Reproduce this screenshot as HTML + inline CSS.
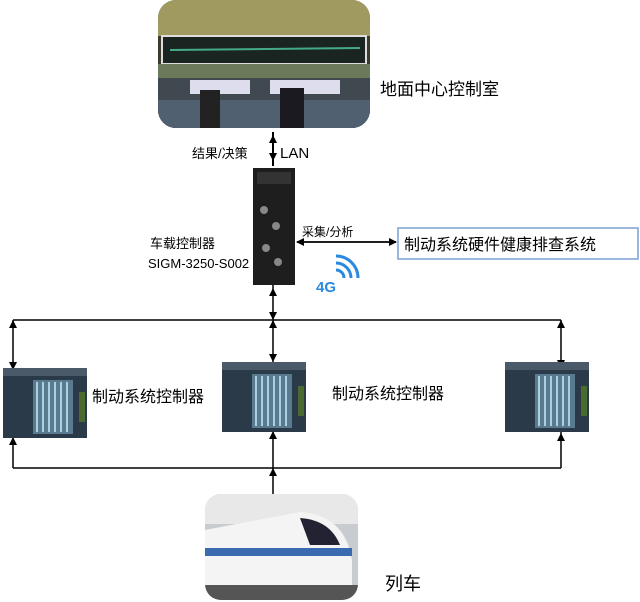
<!DOCTYPE html>
<html><head><meta charset="utf-8"><style>
body{margin:0;background:#fff;}
svg{display:block;font-family:"Liberation Sans","Noto Sans CJK SC",sans-serif;}
</style></head><body>
<svg width="640" height="602" viewBox="0 0 640 602" xmlns="http://www.w3.org/2000/svg">
<defs>
<marker id="a" markerWidth="8" markerHeight="8" refX="7" refY="4" orient="auto" markerUnits="userSpaceOnUse"><path d="M0,0 L8,4 L0,8 z" fill="#000"/></marker>
<clipPath id="c1"><rect x="158" y="0" width="212" height="128" rx="18"/></clipPath>
<clipPath id="c2"><rect x="205" y="494" width="153" height="106" rx="16"/></clipPath>
<g id="plc">
<rect x="0" y="6" width="84" height="64" fill="#2a3a48"/>
<rect x="0" y="0" width="84" height="8" fill="#4a5a68"/>
<rect x="30" y="12" width="40" height="54" fill="#5a7a90"/>
<g stroke="#a8d0e0" stroke-width="2"><line x1="34" y1="14" x2="34" y2="64"/><line x1="40" y1="14" x2="40" y2="64"/><line x1="46" y1="14" x2="46" y2="64"/><line x1="52" y1="14" x2="52" y2="64"/><line x1="58" y1="14" x2="58" y2="64"/><line x1="64" y1="14" x2="64" y2="64"/></g>
<rect x="76" y="24" width="6" height="30" fill="#4a6a30"/>
</g>
</defs>
<!-- control room photo -->
<g clip-path="url(#c1)">
<rect x="158" y="0" width="212" height="128" fill="#3a3a30"/>
<rect x="158" y="0" width="212" height="36" fill="#a09a60"/>
<rect x="162" y="36" width="204" height="28" fill="#1a2420" stroke="#ddd" stroke-width="2"/>
<line x1="170" y1="50" x2="360" y2="48" stroke="#4a8" stroke-width="2"/>
<rect x="158" y="64" width="212" height="14" fill="#6a7a5a"/>
<rect x="158" y="78" width="212" height="50" fill="#404850"/>
<rect x="190" y="80" width="60" height="14" fill="#dde"/>
<rect x="270" y="80" width="70" height="14" fill="#dde"/>
<rect x="158" y="100" width="212" height="28" fill="#506070"/>
<rect x="200" y="90" width="20" height="38" fill="#222"/>
<rect x="280" y="88" width="24" height="40" fill="#1a1a20"/>
</g>
<text x="380" y="95" font-size="17">地面中心控制室</text>
<line x1="273" y1="136" x2="273" y2="160" stroke="#000" stroke-width="2" marker-end="url(#a)"/>
<line x1="273" y1="160" x2="273" y2="136" stroke="#000" stroke-width="2" marker-end="url(#a)"/>
<line x1="273" y1="132" x2="273" y2="166" stroke="#000" stroke-width="2"/>
<text x="192" y="158" font-size="13">结果/决策</text>
<text x="280" y="158" font-size="15">LAN</text>
<!-- vehicle controller -->
<rect x="253" y="168" width="42" height="117" fill="#1e1e1e"/>
<rect x="257" y="172" width="34" height="12" fill="#333"/>
<circle cx="264" cy="210" r="4" fill="#888"/><circle cx="276" cy="226" r="4" fill="#888"/><circle cx="266" cy="248" r="4" fill="#888"/><circle cx="278" cy="262" r="4" fill="#888"/>
<text x="150" y="248" font-size="13">车载控制器</text>
<text x="148" y="268" font-size="13">SIGM-3250-S002</text>
<line x1="297" y1="242" x2="396" y2="242" stroke="#000" stroke-width="1.5" marker-end="url(#a)"/>
<line x1="396" y1="242" x2="297" y2="242" stroke="#000" stroke-width="1.5" marker-end="url(#a)"/>
<text x="302" y="236" font-size="12">采集/分析</text>
<rect x="398" y="228" width="240" height="31" fill="#fff" stroke="#7aa0d0" stroke-width="1.5"/>
<text x="404" y="250" font-size="16">制动系统硬件健康排查系统</text>
<g fill="none" stroke="#2a8ae0" stroke-width="3"><path d="M336,270 a8,8 0 0 1 8,8"/><path d="M336,263 a15,15 0 0 1 15,15"/><path d="M336,256 a22,22 0 0 1 22,22"/></g>
<text x="316" y="292" font-size="15" font-weight="bold" fill="#2a8ae0">4G</text>
<!-- buses -->
<g stroke="#000" stroke-width="1.5" fill="none">
<line x1="273" y1="285" x2="273" y2="320"/>
<line x1="13" y1="320" x2="561" y2="320"/>
<line x1="13" y1="468" x2="561" y2="468"/>
<line x1="13" y1="320" x2="13" y2="468"/>
<line x1="561" y1="320" x2="561" y2="468"/>
<line x1="273" y1="320" x2="273" y2="494"/>
</g>
<g stroke="#000" stroke-width="0" fill="#000">
<path d="M269,312 L277,312 L273,320z"/><path d="M269,328 L277,328 L273,320z"/><path d="M269,296 L277,296 L273,288z"/>
<path d="M9,328 L17,328 L13,320z"/><path d="M9,362 L17,362 L13,370z"/>
<path d="M557,328 L565,328 L561,320z"/><path d="M557,360 L565,360 L561,368z"/>
<path d="M269,354 L277,354 L273,362z"/>
<path d="M9,445 L17,445 L13,437z"/><path d="M269,439 L277,439 L273,431z"/><path d="M557,441 L565,441 L561,433z"/>
<path d="M269,476 L277,476 L273,468z"/>
</g>
<use href="#plc" x="3" y="368"/>
<use href="#plc" x="222" y="362"/>
<use href="#plc" x="505" y="362"/>
<text x="92" y="402" font-size="16">制动系统控制器</text>
<text x="332" y="399" font-size="16">制动系统控制器</text>
<!-- train -->
<g clip-path="url(#c2)">
<rect x="205" y="494" width="153" height="106" fill="#c8ccd0"/>
<rect x="205" y="494" width="153" height="30" fill="#e8e8e8"/>
<path d="M205,530 L300,512 Q345,515 352,560 L352,585 L205,585z" fill="#f4f4f4"/>
<rect x="205" y="548" width="147" height="8" fill="#3a6ab0"/>
<path d="M300,518 Q330,520 340,545 L310,545z" fill="#223"/>
<rect x="205" y="585" width="153" height="15" fill="#555"/>
</g>
<text x="385" y="590" font-size="18">列车</text>
</svg>
</body></html>
